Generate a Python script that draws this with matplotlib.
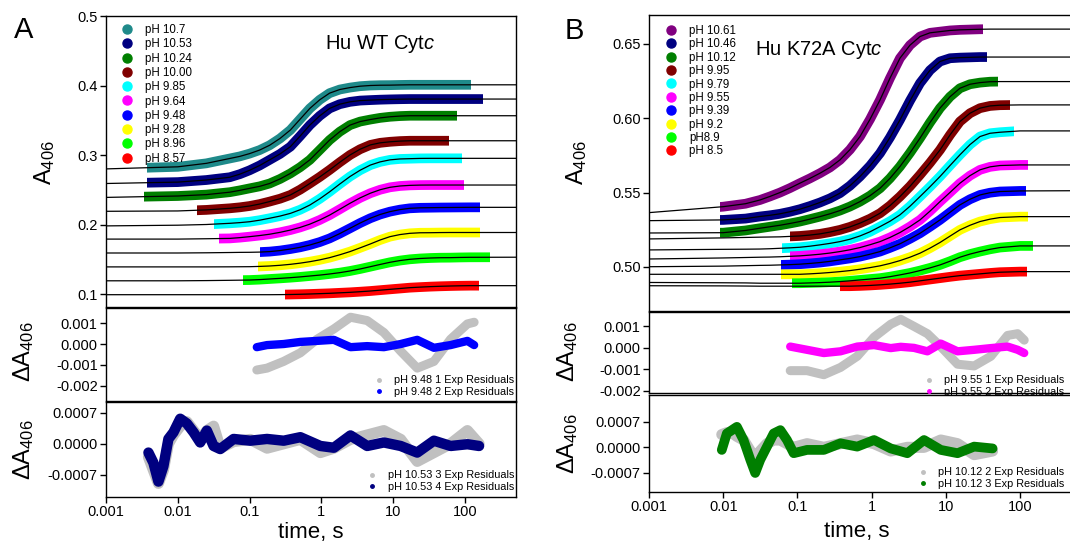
import numpy as np
import matplotlib
matplotlib.use('Agg')
import matplotlib.pyplot as plt
from matplotlib.lines import Line2D
from matplotlib.patches import Rectangle
from matplotlib.ticker import FormatStrFormatter, NullLocator

plt.rcParams['font.family'] = ['Liberation Sans', 'DejaVu Sans']
plt.rcParams['mathtext.fontset'] = 'custom'
plt.rcParams['mathtext.rm'] = 'Liberation Sans'
plt.rcParams['mathtext.it'] = 'Liberation Sans:italic'

# ---------------- Panel A : Hu WT Cytc, A406 read at these times (s)
a_t = [0.001, 0.01, 0.025, 0.053, 0.073, 0.1, 0.138, 0.19, 0.265, 0.37, 0.505, 0.69, 0.947, 1.3,
       1.8, 2.5, 3.46, 4.8, 6.57, 9, 12.4, 17, 23.7, 33, 45, 62, 85, 117, 1000]
a_ph1070 = [0.280, 0.283, 0.288, 0.295, 0.298, 0.302, 0.3071, 0.314, 0.3238, 0.336, 0.3515, 0.367, 0.3794, 0.389,
            0.3942, 0.397, 0.399, 0.400, 0.4004, 0.4005, 0.4008, 0.401, 0.401, 0.401, 0.401, 0.401, 0.401, 0.401, 0.401]
a_ph1053 = [0.259, 0.261, 0.264, 0.268, 0.2724, 0.278, 0.2849, 0.293, 0.3015, 0.312, 0.3272, 0.343, 0.3563, 0.367,
            0.3731, 0.3765, 0.3783, 0.379, 0.3796, 0.380, 0.3803, 0.3805, 0.3805, 0.3805, 0.3805, 0.3805, 0.3805, 0.3805, 0.3805]
a_ph1024 = [0.239, 0.241, 0.243, 0.2465, 0.2491, 0.252, 0.2549, 0.259, 0.2655, 0.2735, 0.2824, 0.293, 0.3072, 0.3215,
            0.3335, 0.343, 0.3481, 0.351, 0.3534, 0.355, 0.356, 0.3565, 0.3565, 0.3565, 0.3565, 0.3565, 0.3565, 0.3565, 0.3565]
a_ph1000 = [0.219, 0.2195, 0.221, 0.2233, 0.2247, 0.2266, 0.2294, 0.233, 0.2371, 0.2425, 0.2501, 0.259, 0.2684, 0.2785,
            0.2895, 0.300, 0.3083, 0.3145, 0.3175, 0.319, 0.320, 0.3205, 0.3205, 0.3205, 0.3205, 0.3205, 0.3205, 0.3205, 0.3205]
a_ph985 = [0.198, 0.199, 0.200, 0.2017, 0.2027, 0.204, 0.2062, 0.209, 0.2121, 0.216, 0.2212, 0.228, 0.2369, 0.247,
           0.2582, 0.269, 0.2781, 0.2855, 0.2901, 0.293, 0.2943, 0.2947, 0.2951, 0.2952, 0.2952, 0.2952, 0.2952, 0.2952, 0.2952]
a_ph964 = [0.179, 0.179, 0.1795, 0.180, 0.1811, 0.1825, 0.1841, 0.186, 0.1887, 0.192, 0.1958, 0.2005, 0.2065, 0.2135,
           0.2219, 0.2305, 0.2383, 0.245, 0.250, 0.2535, 0.2554, 0.2563, 0.2567, 0.2568, 0.2568, 0.2568, 0.2568, 0.2568, 0.2568]
a_ph948 = [0.159, 0.159, 0.1593, 0.1597, 0.1599, 0.160, 0.1603, 0.161, 0.1625, 0.1647, 0.1672, 0.1705, 0.1747, 0.180,
           0.1869, 0.1945, 0.2021, 0.209, 0.2144, 0.2185, 0.2214, 0.2233, 0.224, 0.2242, 0.2244, 0.2245, 0.2246, 0.2247, 0.2247]
a_ph928 = [0.139, 0.139, 0.139, 0.1391, 0.1392, 0.1393, 0.1397, 0.1403, 0.1413, 0.1427, 0.1444, 0.1465, 0.1491, 0.1523,
           0.1564, 0.161, 0.1664, 0.172, 0.1777, 0.1825, 0.1855, 0.1873, 0.1881, 0.1882, 0.1884, 0.1885, 0.1885, 0.1885, 0.1885]
a_ph896 = [0.119, 0.119, 0.1193, 0.1197, 0.1199, 0.1201, 0.1207, 0.1216, 0.1225, 0.1235, 0.1246, 0.1259, 0.1272, 0.1288,
           0.1307, 0.1331, 0.136, 0.1393, 0.1425, 0.1456, 0.1481, 0.1499, 0.1511, 0.1518, 0.1522, 0.1523, 0.1526, 0.1528, 0.153]
a_ph857 = [0.099, 0.099, 0.099, 0.099, 0.099, 0.099, 0.099, 0.099, 0.0991, 0.0993, 0.0996, 0.100, 0.1005, 0.101,
           0.1017, 0.1024, 0.1033, 0.1043, 0.1055, 0.1067, 0.1079, 0.1091, 0.1099, 0.1106, 0.1111, 0.1115, 0.1118, 0.112, 0.112]
a_labels = ['pH 10.7', 'pH 10.53', 'pH 10.24', 'pH 10.00', 'pH 9.85',
            'pH 9.64', 'pH 9.48', 'pH 9.28', 'pH 8.96', 'pH 8.57']
a_start = [0.0037, 0.0037, 0.0034, 0.0186, 0.0316, 0.037, 0.14, 0.132, 0.082, 0.31]
a_end = [120, 180, 78, 60, 92, 98, 160, 160, 225, 158]

# residuals, pH 9.48
ra1_t = [0.126, 0.175, 0.298, 0.509, 0.87, 1.49, 2.54, 4.34, 7.41, 12.7, 21.6, 36.9, 63, 108, 134]
ra1_1exp = [-0.00124, -0.00115, -0.00083, -0.00042, 0.00023, 0.00072, 0.00128, 0.00112,
            0.00055, -0.00034, -0.00115, -0.00083, 0.00023, 0.00096, 0.00104]
ra1_2exp = [-0.00015, -0.00005, 0.0, 0.0001, 0.00015, 0.0002, -0.00015, -0.0001,
            -0.00015, 0.0, 0.0002, -0.00018, -0.00005, 0.00015, -0.00005]
# residuals, pH 10.53
ra2_t = [0.0039, 0.00457, 0.00537, 0.0063, 0.0074, 0.0087, 0.0108, 0.0134, 0.0166, 0.0205,
         0.0254, 0.0315, 0.039, 0.0598, 0.102, 0.175, 0.298, 0.509, 0.968, 1.49,
         2.54, 4.34, 7.41, 12.7, 21.6, 36.9, 63, 108, 157]
ra2_3exp = [-0.0003, -0.0006, -0.0009, -0.0006, 0.0, 0.0002, 0.0004, 0.0005, 0.0003, 0.0001,
            0.0003, 0.0004, -0.0001, 0.00005, 0.0001, -0.0001, 0.0, 0.0001, -0.0002, -0.0001,
            0.0001, 0.0002, 0.0003, 0.0001, -0.0004, -0.0002, 0.0, 0.0003, 0.0]
ra2_4exp = [-0.0002, -0.00043, -0.00086, -0.00051, 0.00011, 0.00026, 0.00057, 0.00046, 0.00026, 0.00003,
            0.0003, -0.00005, -0.00012, 0.00011, 0.00007, 0.00011, 0.00007, 0.00015, -0.00005, -0.00009,
            0.00019, -0.00005, 0.00003, -0.00005, -0.0002, 0.00007, -0.00005, -0.00001, -0.00005]

# ---------------- Panel B : Hu K72A Cytc
b_t = [0.001, 0.01, 0.02, 0.0313, 0.0427, 0.0582, 0.0793, 0.108, 0.147, 0.201, 0.2745, 0.375, 0.511, 0.697,
       0.952, 1.3, 1.77, 2.41, 3.29, 4.49, 6.12, 8.35, 11.4, 15.5, 21.2, 28.9, 39.4, 53.7, 100, 1000]
b_ph1061 = [0.5365, 0.5405, 0.5425, 0.545, 0.5474, 0.550, 0.553, 0.5563, 0.5595, 0.563, 0.5669, 0.572, 0.5789, 0.5877,
            0.5993, 0.6124, 0.627, 0.6404, 0.6492, 0.655, 0.6575, 0.6583, 0.6591, 0.6595, 0.6597, 0.6599, 0.660, 0.660, 0.660, 0.660]
b_ph1046 = [0.5311, 0.5316, 0.5325, 0.5339, 0.5347, 0.5357, 0.5371, 0.5388, 0.5409, 0.5433, 0.5461, 0.5496, 0.5546, 0.5608,
            0.568, 0.5765, 0.5871, 0.5989, 0.6118, 0.6236, 0.6323, 0.6382, 0.6404, 0.6408, 0.641, 0.6412, 0.6412, 0.6412, 0.6412, 0.6412]
b_ph1012 = [0.5228, 0.523, 0.5245, 0.526, 0.527, 0.528, 0.5292, 0.5305, 0.5321, 0.5338, 0.5357, 0.5379, 0.5406, 0.5439,
            0.5479, 0.5529, 0.5596, 0.5675, 0.5767, 0.5866, 0.5971, 0.6068, 0.6145, 0.6202, 0.6229, 0.624, 0.6246, 0.6247, 0.6247, 0.6247]
b_ph995 = [0.5188, 0.5195, 0.5198, 0.520, 0.5201, 0.5202, 0.5205, 0.5208, 0.5214, 0.5222, 0.5234, 0.5249, 0.5269, 0.5294,
           0.5324, 0.5361, 0.5412, 0.5473, 0.5542, 0.5619, 0.570, 0.5787, 0.5888, 0.5978, 0.6034, 0.6068, 0.6083, 0.6088, 0.609, 0.609]
b_ph979 = [0.5114, 0.5118, 0.5119, 0.512, 0.5122, 0.5125, 0.5128, 0.5132, 0.5139, 0.5148, 0.5158, 0.517, 0.5186, 0.5208,
           0.5236, 0.5271, 0.5307, 0.535, 0.5408, 0.5473, 0.5539, 0.5608, 0.5682, 0.5754, 0.5823, 0.5877, 0.5899, 0.5906, 0.5915, 0.5915]
b_ph955 = [0.5053, 0.506, 0.5063, 0.5065, 0.5066, 0.5068, 0.5071, 0.5074, 0.5079, 0.5085, 0.5093, 0.5103, 0.5115, 0.513,
           0.5149, 0.517, 0.5198, 0.5231, 0.5271, 0.5316, 0.5375, 0.5439, 0.5501, 0.5563, 0.5614, 0.5653, 0.5673, 0.5682, 0.5686, 0.5686]
b_ph939 = [0.5001, 0.5005, 0.5008, 0.501, 0.5011, 0.5013, 0.5015, 0.5018, 0.5023, 0.5029, 0.5037, 0.5047, 0.5057, 0.5069,
           0.5085, 0.5103, 0.5128, 0.5155, 0.5189, 0.5226, 0.527, 0.5316, 0.5367, 0.5417, 0.5455, 0.5484, 0.5499, 0.5507, 0.5511, 0.5513]
b_ph920 = [0.495, 0.495, 0.495, 0.495, 0.495, 0.495, 0.495, 0.495, 0.4953, 0.4957, 0.4962, 0.4968, 0.4975, 0.4984,
           0.4995, 0.5007, 0.5023, 0.5042, 0.5065, 0.5092, 0.5126, 0.5164, 0.5207, 0.5249, 0.528, 0.5305, 0.5321, 0.5332, 0.5338, 0.5338]
b_ph890 = [0.4895, 0.4893, 0.4892, 0.489, 0.489, 0.489, 0.489, 0.489, 0.4892, 0.4894, 0.4897, 0.4901, 0.4906, 0.4912,
           0.4918, 0.4924, 0.4934, 0.4946, 0.4959, 0.4975, 0.4993, 0.5013, 0.5038, 0.5065, 0.5086, 0.5103, 0.5118, 0.513, 0.5141, 0.5141]
b_ph850 = [0.4873, 0.4872, 0.4871, 0.487, 0.487, 0.487, 0.487, 0.487, 0.487, 0.487, 0.487, 0.487, 0.487, 0.4872,
           0.4875, 0.4879, 0.4884, 0.489, 0.4897, 0.4906, 0.4915, 0.4924, 0.4933, 0.4941, 0.4947, 0.4953, 0.4959, 0.4964, 0.4968, 0.4968]
b_labels = ['pH 10.61', 'pH 10.46', 'pH 10.12', 'pH 9.95', 'pH 9.79',
            'pH 9.55', 'pH 9.39', 'pH 9.2', 'pH8.9', 'pH 8.5']
b_start = [0.0091, 0.0091, 0.0091, 0.08, 0.062, 0.08, 0.06, 0.06, 0.085, 0.38]
b_end = [32, 36, 51, 74, 83, 130, 120, 128, 150, 125]

# residuals, pH 9.55
rb1_t = [0.080, 0.135, 0.227, 0.381, 0.64, 1.08, 1.81, 2.47, 3.73, 5.65, 8.55, 14.4, 24.1, 40.5, 68, 93, 114]
rb1_1exp = [-0.00106, -0.00106, -0.00125, -0.00091, -0.00039, 0.0005, 0.0011, 0.00133, 0.001,
            0.00066, 0.00006, -0.00076, -0.00084, -0.00039, 0.00058, 0.00066, 0.00036]
rb1_2exp = [0.00006, -0.00009, -0.00024, -0.00016, 0.00006, 0.00013, -0.00001, 0.00005, 0.0,
            -0.00016, 0.0002, -0.00016, -0.00009, -0.00001, 0.00006, -0.00009, -0.00024]
# residuals, pH 10.12
rb2_t = [0.00957, 0.0112, 0.0131, 0.0153, 0.0188, 0.0232, 0.0270, 0.0316, 0.0389, 0.0479,
         0.0589, 0.0724, 0.0891, 0.135, 0.227, 0.381, 0.64, 1.08, 1.81, 3.03,
         5.09, 8.55, 14.4, 24.1, 42.7]
rb2_2exp = [0.00035, 0.0004, 0.0004, 0.0003, 0.0002, -0.0001, -0.0003, -0.0001, 0.0001, 0.0002,
            0.0002, 0.0001, 0.0, 0.0001, 0.0, 0.0001, 0.0002, 0.0001, -0.0001, 0.0,
            0.0, 0.0002, 0.0001, -0.0002, -0.0001]
rb2_3exp = [-0.00007, 0.00038, 0.00047, 0.00056, 0.0002, -0.00034, -0.0007, -0.00034, 0.00002, 0.00038,
            0.00047, 0.0002, -0.00016, -0.00007, -0.00007, 0.00011, 0.00002, 0.0002, -0.00003, -0.00016,
            0.0002, -0.00007, -0.00016, 0.00002, -0.00003]

time_ticks = [0.001, 0.01, 0.1, 1, 10, 100]
time_labels = ['0.001', '0.01', '0.1', '1', '10', '100']

a_colors = ['#1f8a8a', '#000080', '#007f00', '#800000', '#00ffff',
            '#ff00ff', '#0000ff', '#ffff00', '#00ff00', '#ff0000']
b_colors = ['#800080', '#000080', '#007f00', '#800000', '#00ffff',
            '#ff00ff', '#0000ff', '#ffff00', '#00ff00', '#ff0000']
GRAY = '#c0c0c0'

W, H = 1070, 554
fig = plt.figure(figsize=(W / 100, H / 100), dpi=100)


def px_axes(left, top, right, bottom):
    return fig.add_axes([left / W, 1 - bottom / H, (right - left) / W, (bottom - top) / H])


def style(ax, xmax, ylim, fmt, yticks, show_x=False):
    ax.set_xscale('log')
    ax.set_xlim(0.001, xmax)
    ax.set_ylim(*ylim)
    ax.xaxis.set_minor_locator(NullLocator())
    ax.yaxis.set_minor_locator(NullLocator())
    ax.set_yticks(yticks)
    ax.yaxis.set_major_formatter(FormatStrFormatter(fmt))
    ax.tick_params(direction='out', length=4, width=1, labelsize=10.5, pad=2,
                   right=False, top=False)
    if show_x:
        ax.set_xticks(time_ticks, time_labels)
    else:
        ax.set_xticks([])
    for s in ax.spines.values():
        s.set_linewidth(1.0)


def draw_traces(ax, t, series, starts, ends, colors):
    # coloured data band only where the trace was recorded, black fit over the full range
    for y, t0, t1, c in zip(series, starts, ends, colors):
        band, = ax.plot(t, y, color=c, lw=7, solid_capstyle='butt', solid_joinstyle='round', zorder=2)
        band.set_clip_path(Rectangle((t0, -1), t1 - t0, 3, transform=ax.transData))
    for y in series:
        ax.plot(t, y, color='k', lw=0.9, zorder=3)


def main_legend(ax, labels, colors, x0, y0, spacing):
    handles = [Line2D([], [], ls='none', marker='o', ms=6.5, color=c) for c in colors]
    ax.legend(handles, labels, loc='upper left', bbox_to_anchor=(x0 / W, 1 - y0 / H),
              bbox_transform=fig.transFigure, frameon=False, fontsize=8.3,
              handlelength=1.2, handletextpad=1.0, labelspacing=spacing,
              borderpad=0, borderaxespad=0)


def resid_legend(ax, labels, colors, x1, y1):
    handles = [Line2D([], [], ls='none', marker='o', ms=2.5, color=c) for c in colors]
    ax.legend(handles, labels, loc='lower right', bbox_to_anchor=(x1 / W, 1 - y1 / H),
              bbox_transform=fig.transFigure, frameon=False, fontsize=7.8,
              handlelength=1.0, handletextpad=0.9, labelspacing=0.15,
              borderpad=0, borderaxespad=0)


# ---------------- panel A
a_xmax = 10 ** (-3 + 410 / 71.8)
axA = px_axes(106, 16, 516, 307)
axA1 = px_axes(106, 308, 516, 401)
axA2 = px_axes(106, 402, 516, 497)

draw_traces(axA, a_t, [a_ph1070, a_ph1053, a_ph1024, a_ph1000, a_ph985,
                       a_ph964, a_ph948, a_ph928, a_ph896, a_ph857],
            a_start, a_end, a_colors)
style(axA, a_xmax, (0.0813, 0.5), '%.1f', [0.1, 0.2, 0.3, 0.4, 0.5])
main_legend(axA, a_labels, a_colors, 120, 24, 0.2)
axA.text(0.535, 0.885, r'Hu WT Cyt$\it{c}$', transform=axA.transAxes, fontsize=14.5)

axA1.plot(ra1_t, ra1_1exp, color=GRAY, lw=6.5, solid_capstyle='round')
axA1.plot(ra1_t, ra1_2exp, color='#0000ff', lw=6, solid_capstyle='round')
style(axA1, a_xmax, (-0.00272, 0.00172), '%.3f', [0.001, 0.0, -0.001, -0.002])
resid_legend(axA1, ['pH 9.48 1 Exp Residuals', 'pH 9.48 2 Exp Residuals'],
             [GRAY, '#0000ff'], 514, 397)

axA2.plot(ra2_t, ra2_3exp, color=GRAY, lw=8, solid_capstyle='round')
axA2.plot(ra2_t, ra2_4exp, color='#000080', lw=7.5, solid_capstyle='round')
style(axA2, a_xmax, (-0.00121, 0.00095), '%.4f', [0.0007, 0.0, -0.0007], show_x=True)
resid_legend(axA2, ['pH 10.53 3 Exp Residuals', 'pH 10.53 4 Exp Residuals'],
             [GRAY, '#000080'], 514, 492)
axA2.set_xlabel('time, s', fontsize=16, labelpad=2)

fig.text(45 / W, 1 - 163 / H, r'A$_{406}$', rotation=90, ha='center', va='center', fontsize=17)
fig.text(24 / W, 1 - 352 / H, r'$\Delta$A$_{406}$', rotation=90, ha='center', va='center', fontsize=17)
fig.text(24 / W, 1 - 450 / H, r'$\Delta$A$_{406}$', rotation=90, ha='center', va='center', fontsize=17)
fig.text(24 / W, 1 - 30 / H, 'A', ha='center', va='center', fontsize=21)

# ---------------- panel B
b_xmax = 10 ** (-3 + 442 / 74.2)
axB = px_axes(649, 15, 1091, 311)
axB1 = px_axes(649, 312, 1091, 393)
axB2 = px_axes(649, 395, 1091, 492)

draw_traces(axB, b_t, [b_ph1061, b_ph1046, b_ph1012, b_ph995, b_ph979,
                       b_ph955, b_ph939, b_ph920, b_ph890, b_ph850],
            b_start, b_end, b_colors)
style(axB, b_xmax, (0.4703, 0.6695), '%.2f', [0.50, 0.55, 0.60, 0.65])
main_legend(axB, b_labels, b_colors, 664, 25, 0.12)
axB.text(0.24, 0.865, r'Hu K72A Cyt$\it{c}$', transform=axB.transAxes, fontsize=14.5)

axB1.plot(rb1_t, rb1_1exp, color=GRAY, lw=6.5, solid_capstyle='round')
axB1.plot(rb1_t, rb1_2exp, color='#ff00ff', lw=6, solid_capstyle='round')
style(axB1, b_xmax, (-0.0021, 0.00167), '%.3f', [0.001, 0.0, -0.001, -0.002])
resid_legend(axB1, ['pH 9.55 1 Exp Residuals', 'pH 9.55 2 Exp Residuals'],
             [GRAY, '#ff00ff'], 1064, 397)

axB2.plot(rb2_t, rb2_2exp, color=GRAY, lw=8, solid_capstyle='round')
axB2.plot(rb2_t, rb2_3exp, color='#007f00', lw=7, solid_capstyle='round')
style(axB2, b_xmax, (-0.00122, 0.00143), '%.4f', [0.0007, 0.0, -0.0007], show_x=True)
resid_legend(axB2, ['pH 10.12 2 Exp Residuals', 'pH 10.12 3 Exp Residuals'],
             [GRAY, '#007f00'], 1064, 489)
axB2.set_xlabel('time, s', fontsize=16, labelpad=2)
axB2.xaxis.set_label_coords((857 - 649) / 442, -0.3)

fig.text(577 / W, 1 - 163 / H, r'A$_{406}$', rotation=90, ha='center', va='center', fontsize=17)
fig.text(568 / W, 1 - 352 / H, r'$\Delta$A$_{406}$', rotation=90, ha='center', va='center', fontsize=17)
fig.text(568 / W, 1 - 444 / H, r'$\Delta$A$_{406}$', rotation=90, ha='center', va='center', fontsize=17)
fig.text(574 / W, 1 - 31 / H, 'B', ha='center', va='center', fontsize=21)

fig.savefig('out.png', dpi=100)
